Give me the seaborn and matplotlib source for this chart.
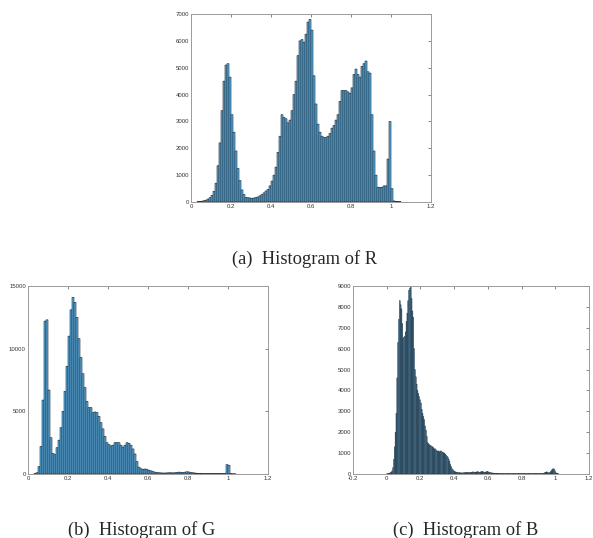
import numpy as np
import pandas as pd
import matplotlib
matplotlib.use("Agg")
import matplotlib.pyplot as plt
import seaborn as sns

# ---------------- data ----------------
# R channel: bins of width 0.01 starting at 0.03
R_START, R_WIDTH = 0.03, 0.01
R_COUNTS = [10, 20, 30, 50, 70, 110, 160, 250, 400, 700,
            1350, 2200, 3400, 4500, 5100, 5150, 4650, 3250, 2600, 1900,
            1250, 800, 450, 280, 170, 160, 150, 140, 150, 170,
            190, 230, 280, 340, 410, 470, 600, 780, 1000, 1300,
            1850, 2450, 3250, 3150, 3100, 2950, 3050, 3400, 4000, 4500,
            5450, 6000, 6050, 5950, 6250, 6700, 6800, 6400, 4700, 3650,
            2900, 2600, 2450, 2400, 2400, 2450, 2550, 2750, 2850, 3050,
            3250, 3750, 4150, 4150, 4150, 4100, 4050, 4250, 4750, 4950,
            4750, 4650, 5050, 5150, 5250, 4850, 4800, 3250, 1900, 1000,
            550, 550, 550, 600, 600, 1600, 3000, 500, 40, 25,
            15, 10]

# G channel: bins of width 0.01 starting at 0.03
G_START, G_WIDTH = 0.03, 0.01
G_COUNTS = [20, 100, 600, 2200, 5900, 12200, 12300, 6700, 2900, 1650,
            1550, 2100, 2700, 3700, 5000, 6600, 8600, 11000, 13100, 14100,
            13700, 12500, 10800, 9300, 8000, 6900, 5800, 5300, 5300, 4900,
            4950, 4900, 4600, 4100, 3600, 3000, 2500, 2350, 2250, 2300,
            2500, 2500, 2500, 2300, 2150, 2300, 2500, 2450, 2300, 2000,
            1600, 1000, 550, 420, 380, 400, 380, 300, 250, 200,
            150, 120, 100, 90, 80, 80, 90, 100, 100, 90,
            100, 130, 150, 140, 120, 150, 180, 160, 120, 100,
            80, 60, 40, 30, 20, 20, 20, 20, 20, 20,
            20, 20, 20, 20, 20, 20, 750, 700, 20, 10,
            5]

# B channel: bins of width 0.005 starting at 0.0
B_START, B_WIDTH = 0.0, 0.005
B_COUNTS = [10, 20, 30, 40, 60, 90, 150, 300, 700, 1300,
            2000, 2900, 4600, 6300, 7400, 8300, 8100, 7900, 7200, 6500,
            6550, 6600, 6800, 7300, 7700, 8300, 8800, 8900, 9000, 8400,
            7800, 7500, 6000, 5000, 4650, 4300, 4000, 3850, 3700, 3550,
            3400, 3100, 2900, 2750, 2600, 2300, 2100, 1800, 1500, 1450,
            1400, 1380, 1350, 1300, 1300, 1250, 1200, 1200, 1150, 1100,
            1100, 1100, 1050, 1100, 1100, 1050, 1050, 1000, 1000, 950,
            900, 850, 800, 700, 600, 450, 350, 250, 200, 150,
            120, 100, 90, 80, 70, 60, 60, 55, 50, 50,
            55, 60, 60, 65, 70, 75, 80, 70, 60, 65,
            75, 90, 100, 90, 80, 85, 95, 110, 100, 90,
            80, 100, 110, 120, 100, 90, 80, 90, 110, 120,
            100, 80, 70, 60, 50, 45, 40, 40, 35, 30,
            30, 30, 30, 25, 25, 25, 20, 20, 20, 20,
            20, 20, 20, 15, 15, 18, 15, 15, 12, 15,
            15, 15, 18, 15, 15, 12, 15, 15, 15, 18,
            15, 15, 12, 15, 15, 15, 18, 15, 15, 15,
            15, 12, 15, 15, 15, 18, 15, 15, 15, 15,
            15, 15, 20, 20, 25, 30, 40, 60, 80, 100,
            90, 60, 50, 70, 110, 160, 220, 250, 240, 160,
            70, 30, 15, 10]

R_XTICKS = [0, 0.2, 0.4, 0.6, 0.8, 1.0, 1.2]
R_XLABELS = ["0", "0.2", "0.4", "0.6", "0.8", "1", "1.2"]
R_YTICKS = [0, 1000, 2000, 3000, 4000, 5000, 6000, 7000]
R_YLABELS = ["0", "1000", "2000", "3000", "4000", "5000", "6000", "7000"]

G_XTICKS = [0, 0.2, 0.4, 0.6, 0.8, 1.0, 1.2]
G_XLABELS = ["0", "0.2", "0.4", "0.6", "0.8", "1", "1.2"]
G_YTICKS = [0, 5000, 10000, 15000]
G_YLABELS = ["0", "5000", "10000", "15000"]

B_XTICKS = [-0.2, 0, 0.2, 0.4, 0.6, 0.8, 1.0, 1.2]
B_XLABELS = ["-0.2", "0", "0.2", "0.4", "0.6", "0.8", "1", "1.2"]
B_YTICKS = [0, 1000, 2000, 3000, 4000, 5000, 6000, 7000, 8000, 9000]
B_YLABELS = ["0", "1000", "2000", "3000", "4000", "5000", "6000", "7000", "8000", "9000"]

CAPTIONS = ["(a)  Histogram of R", "(b)  Histogram of G", "(c)  Histogram of B"]

# ---------------- style ----------------
sns.set_style("white")
plt.rcParams["font.family"] = ["Liberation Sans", "DejaVu Sans"]

FACE = "#5aaee2"
EDGE = "#1c2833"
FRAME = "#9a9a9a"

fig = plt.figure(figsize=(5.93, 5.38), dpi=100)

W, H = 593.0, 538.0


def make_ax(left, top, right, bottom):
    return fig.add_axes([left / W, 1 - bottom / H, (right - left) / W, (bottom - top) / H])


def draw(ax, start, width, counts, xlim, ylim, xticks, xlabels, yticks, ylabels, lw):
    n = len(counts)
    centers = start + width * (np.arange(n) + 0.5)
    df = pd.DataFrame({"value": centers, "count": np.asarray(counts, dtype=float)})
    sns.histplot(data=df, x="value", weights="count", bins=n,
                 binrange=(start, start + n * width), ax=ax,
                 color=FACE, edgecolor=EDGE, linewidth=lw, alpha=1.0)
    for p in ax.patches:
        p.set_snap(False)
    ax.set_xlim(*xlim)
    ax.set_ylim(*ylim)
    ax.set_xticks(xticks)
    ax.set_xticklabels(xlabels)
    ax.set_yticks(yticks)
    ax.set_yticklabels(ylabels)
    ax.set_xlabel("")
    ax.set_ylabel("")
    ax.tick_params(direction="in", top=True, right=True, length=2.2, width=0.5,
                   labelsize=4.3, pad=1.5, color="#555555", labelcolor="#333333")
    for s in ax.spines.values():
        s.set_color(FRAME)
        s.set_linewidth(0.7)


ax_r = make_ax(191, 14, 431, 202)
draw(ax_r, R_START, R_WIDTH, R_COUNTS, (0, 1.2), (0, 7000),
     R_XTICKS, R_XLABELS, R_YTICKS, R_YLABELS, 0.42)

ax_g = make_ax(28, 286, 268, 474)
draw(ax_g, G_START, G_WIDTH, G_COUNTS, (0, 1.2), (0, 15000),
     G_XTICKS, G_XLABELS, G_YTICKS, G_YLABELS, 0.42)

ax_b = make_ax(353, 286, 589, 474)
draw(ax_b, B_START, B_WIDTH, B_COUNTS, (-0.2, 1.2), (0, 9000),
     B_XTICKS, B_XLABELS, B_YTICKS, B_YLABELS, 0.35)

cap_kw = dict(ha="center", va="baseline", fontsize=13.3, family=["Liberation Serif", "DejaVu Serif"])
fig.text(304.5 / W, 1 - 263.5 / H, CAPTIONS[0], **cap_kw)
fig.text(141.5 / W, 1 - 535 / H, CAPTIONS[1], **cap_kw)
fig.text(466 / W, 1 - 535 / H, CAPTIONS[2], **cap_kw)

fig.savefig("out.png", dpi=100)
